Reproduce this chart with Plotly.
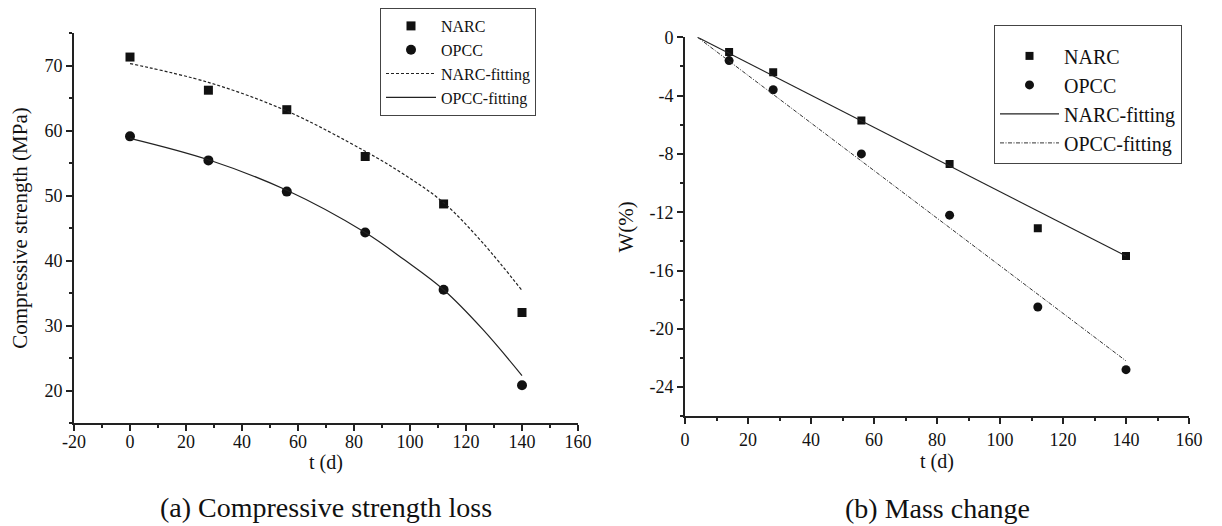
import plotly.graph_objects as go

# ---------------- data ----------------
# (a) Compressive strength loss
t_cs = [0, 28, 56, 84, 112, 140]
narc_cs = [71.3, 66.2, 63.2, 56.0, 48.7, 32.0]
opcc_cs = [59.1, 55.4, 50.6, 44.3, 35.5, 20.8]
t_cs_fit = [0, 28, 56, 84, 98, 112, 126, 140]
narc_cs_fit = [70.3, 67.4, 63.0, 56.8, 53.2, 48.9, 42.7, 35.4]
opcc_cs_fit = [58.8, 55.5, 50.8, 44.3, 40.1, 35.5, 29.4, 22.3]

# (b) Mass change
t_m = [14, 28, 56, 84, 112, 140]
narc_m = [-1.0, -2.4, -5.7, -8.7, -13.1, -15.0]
opcc_m = [-1.6, -3.6, -8.0, -12.2, -18.5, -22.8]
t_m_fit = [4, 140]
narc_m_fit = [0.0, -15.0]
opcc_m_fit = [0.0, -22.2]

x_ticks_a = [-20, 0, 20, 40, 60, 80, 100, 120, 140, 160]
x_labels_a = ["-20", "0", "20", "40", "60", "80", "100", "120", "140", "160"]
y_ticks_a = [20, 30, 40, 50, 60, 70]
y_labels_a = ["20", "30", "40", "50", "60", "70"]
x_ticks_b = [0, 20, 40, 60, 80, 100, 120, 140, 160]
x_labels_b = ["0", "20", "40", "60", "80", "100", "120", "140", "160"]
y_ticks_b = [0, -4, -8, -12, -16, -20, -24]
y_labels_b = ["0", "-4", "-8", "-12", "-16", "-20", "-24"]

FONT = "Liberation Serif"
INK = "#111111"
# the page body adds an 8px margin; size the figure so it fills the 1222x526 window
OX, OY = 8, 8
W, H = 1222 - OX, 526 - OY


def px(x):
    return (x - OX) / W


def py(y):
    return 1 - (y - OY) / H


fig = go.Figure()

# ----- panel (a) -----
fig.add_trace(go.Scatter(x=t_cs, y=narc_cs, mode="markers", name="NARC",
                         marker=dict(symbol="square", size=9, color=INK),
                         xaxis="x", yaxis="y", legend="legend"))
fig.add_trace(go.Scatter(x=t_cs, y=opcc_cs, mode="markers", name="OPCC",
                         marker=dict(symbol="circle", size=10, color=INK),
                         xaxis="x", yaxis="y", legend="legend"))
fig.add_trace(go.Scatter(x=t_cs_fit, y=narc_cs_fit, mode="lines", name="NARC-fitting",
                         line=dict(color="#222", width=1.2, dash="3px,2px", shape="spline"),
                         xaxis="x", yaxis="y", legend="legend"))
fig.add_trace(go.Scatter(x=t_cs_fit, y=opcc_cs_fit, mode="lines", name="OPCC-fitting",
                         line=dict(color="#222", width=1.2, shape="spline"),
                         xaxis="x", yaxis="y", legend="legend"))

# ----- panel (b) -----
fig.add_trace(go.Scatter(x=t_m, y=narc_m, mode="markers", name="NARC",
                         marker=dict(symbol="square", size=8, color=INK),
                         xaxis="x2", yaxis="y2", legend="legend2"))
fig.add_trace(go.Scatter(x=t_m, y=opcc_m, mode="markers", name="OPCC",
                         marker=dict(symbol="circle", size=9, color=INK),
                         xaxis="x2", yaxis="y2", legend="legend2"))
fig.add_trace(go.Scatter(x=t_m_fit, y=narc_m_fit, mode="lines", name="NARC-fitting",
                         line=dict(color="#222", width=1.2),
                         xaxis="x2", yaxis="y2", legend="legend2"))
fig.add_trace(go.Scatter(x=t_m_fit, y=opcc_m_fit, mode="lines", name="OPCC-fitting",
                         line=dict(color="#333", width=1.0, dash="4px,1.5px,1px,1.5px"),
                         xaxis="x2", yaxis="y2", legend="legend2"))

axis_common = dict(
    showline=True, linewidth=2, linecolor="#222", mirror=False,
    showgrid=False, zeroline=False, automargin=False,
    ticks="outside", ticklen=6, tickwidth=1.5, tickcolor="#222",
    tickfont=dict(family=FONT, size=18, color=INK),
)

fig.update_layout(
    width=W, height=H, autosize=False,
    margin=dict(l=0, r=0, t=0, b=0),
    paper_bgcolor="white", plot_bgcolor="white",
    font=dict(family=FONT, color=INK),
    xaxis=dict(domain=[px(74), px(578)], range=[-20, 160], anchor="y",
               tickmode="array", tickvals=x_ticks_a, ticktext=x_labels_a,
               ticklabelstandoff=-5,
               minor=dict(ticks="outside", ticklen=3, dtick=10, tick0=0, tickcolor="#222"),
               title=dict(text="t (d)", font=dict(family=FONT, size=20, color=INK), standoff=4),
               **axis_common),
    yaxis=dict(domain=[py(423), py(33)], range=[15, 75], anchor="x",
               tickmode="array", tickvals=y_ticks_a, ticktext=y_labels_a,
               minor=dict(ticks="outside", ticklen=3, dtick=5, tick0=0, tickcolor="#222"),
               title=dict(text="Compressive strength (MPa)",
                          font=dict(family=FONT, size=21, color=INK), standoff=12),
               **axis_common),
    xaxis2=dict(domain=[px(685), px(1189)], range=[0, 160], anchor="y2",
                tickmode="array", tickvals=x_ticks_b, ticktext=x_labels_b,
                minor=dict(ticks="outside", ticklen=3, dtick=10, tick0=0, tickcolor="#222"),
                title=dict(text="t (d)", font=dict(family=FONT, size=20, color=INK), standoff=3),
                **axis_common),
    yaxis2=dict(domain=[py(416.3), py(37.3)], range=[-26, 0], anchor="x2",
                tickmode="array", tickvals=y_ticks_b, ticktext=y_labels_b,
                minor=dict(ticks="outside", ticklen=3, dtick=2, tick0=0, tickcolor="#222"),
                title=dict(text="W(%)", font=dict(family=FONT, size=21, color=INK), standoff=10),
                **axis_common),
    legend=dict(x=px(380), y=py(8), xanchor="left", yanchor="top",
                bgcolor="white", bordercolor="#444", borderwidth=1,
                font=dict(family=FONT, size=16, color=INK),
                tracegroupgap=0, itemwidth=50),
    legend2=dict(x=px(994), y=py(25), xanchor="left", yanchor="top",
                 bgcolor="white", bordercolor="#444", borderwidth=1,
                 font=dict(family=FONT, size=20, color=INK),
                 title=dict(text=" ", font=dict(size=8)),
                 tracegroupgap=0, itemwidth=59),
    annotations=[
        dict(text="(a) Compressive strength loss", xref="paper", yref="paper",
             x=px(326), y=py(507), xanchor="center", yanchor="middle",
             showarrow=False, font=dict(family=FONT, size=28, color=INK)),
        dict(text="(b) Mass change", xref="paper", yref="paper",
             x=px(937), y=py(508), xanchor="center", yanchor="middle",
             showarrow=False, font=dict(family=FONT, size=28, color=INK)),
    ],
)

fig.write_html("out.html")
